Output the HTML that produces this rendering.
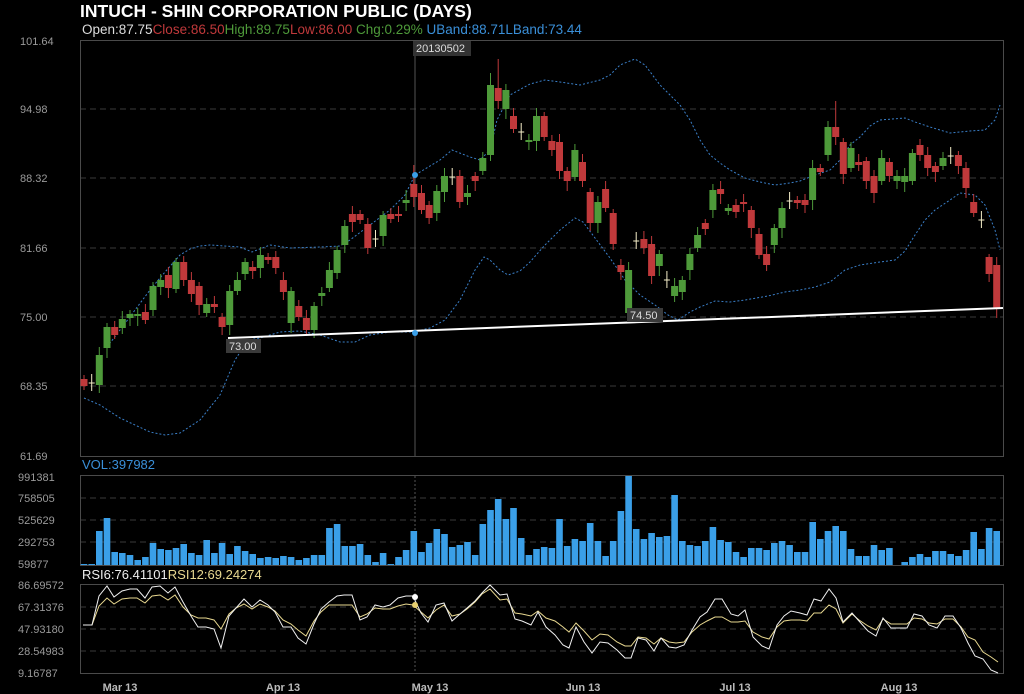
<!DOCTYPE html>
<html><head><meta charset="utf-8"><style>
html,body{margin:0;padding:0;background:#000;width:1024px;height:694px;overflow:hidden}
svg{display:block}
text{font-family:"Liberation Sans",sans-serif}
</style></head><body>
<svg id="s" width="1024" height="694" xmlns="http://www.w3.org/2000/svg">
<rect width="1024" height="694" fill="#000"/>
<text x="80" y="17" fill="#fff" font-size="17.5" font-weight="bold">INTUCH - SHIN CORPORATION PUBLIC (DAYS)</text>
<text x="82" y="34" font-size="13.5"><tspan fill="#ddd">Open:87.75</tspan><tspan fill="#c0393b">Close:86.50</tspan><tspan fill="#4e9a3a">High:89.75</tspan><tspan fill="#c0393b">Low:86.00</tspan><tspan fill="#4e9a3a"> Chg:0.29%</tspan><tspan fill="#3a8fd8">   UBand:88.71</tspan><tspan fill="#3a8fd8">LBand:73.44</tspan></text>
<g id="g"></g>
</svg>
<script>
var g=document.getElementById('g'),h='';
function L(x1,y1,x2,y2,c,w,d){h+='<line x1="'+x1+'" y1="'+y1+'" x2="'+x2+'" y2="'+y2+'" stroke="'+c+'" stroke-width="'+(w||1)+'"'+(d?' stroke-dasharray="'+d+'"':'')+'/>';}
function T(x,y,t,c,s,a,b){h+='<text x="'+x+'" y="'+y+'" fill="'+c+'" font-size="'+s+'"'+(a?' text-anchor="'+a+'"':'')+(b?' font-weight="bold"':'')+'>'+t+'</text>';}
var pl=[[41,'101.64'],[109,'94.98'],[178,'88.32'],[248,'81.66'],[317,'75.00'],[386,'68.35'],[456,'61.69']];
pl.forEach(function(p,i){if(i>0&&i<6)L(80,p[0],1003,p[0],'#3a3a3a',1,'6,4');T(20,p[0]+4,p[1],'#9a9a9a',11);});
var vl=[[477,'991381'],[498,'758505'],[520,'525629'],[542,'292753'],[564,'59877']];
vl.forEach(function(p,i){if(i>0&&i<4)L(80,p[0],1003,p[0],'#3a3a3a',1,'6,4');T(18,p[0]+4,p[1],'#9a9a9a',11);});
var rl=[[585,'86.69572'],[607,'67.31376'],[629,'47.93180'],[651,'28.54983'],[673,'9.16787']];
rl.forEach(function(p,i){if(i>0&&i<4)L(80,p[0],1003,p[0],'#3a3a3a',1,'6,4');T(18,p[0]+4,p[1],'#9a9a9a',11);});
h+='<rect x="80.5" y="40.5" width="923" height="416" fill="none" stroke="#4a4a4a"/>';
h+='<rect x="80.5" y="475.5" width="923" height="90" fill="none" stroke="#4a4a4a"/>';
h+='<rect x="80.5" y="584.5" width="923" height="89" fill="none" stroke="#4a4a4a"/>';
T(82,469,'VOL:397982','#3a8fd8',13);
h+='<text x="82" y="579" font-size="13"><tspan fill="#eee">RSI6:76.41101</tspan><tspan fill="#e8d890">RSI12:69.24274</tspan></text>';
[['Mar 13',120],['Apr 13',283],['May 13',430],['Jun 13',583],['Jul 13',735],['Aug 13',899]].forEach(function(a){T(a[1],691,a[0],'#bbb',11,'middle',1);});
L(415,41,415,456,'#555');L(415,476,415,565,'#555',1,'2,2');L(415,585,415,673,'#555',1,'2,2');
function P(pts,c,w,d){h+='<polyline fill="none" stroke="'+c+'" stroke-width="'+(w||1)+'"'+(d?' stroke-dasharray="'+d+'"':'')+' points="'+pts+'"/>';}
var up='107,347 120,330 135,310 150,290 165,272 180,255 190,249 200,246 210,245 240,247 252,252 270,245 290,248 320,247 340,246 350,240 370,225 390,210 405,195 415,175 440,160 452,150 470,157 480,160 490,150 497,120 510,95 530,84 545,80 560,82 580,85 600,80 610,75 620,65 635,59 645,65 660,85 680,105 690,120 700,140 710,155 720,163 730,170 745,178 760,182 775,185 790,183 800,181 815,175 830,170 840,160 850,145 860,137 870,126 880,120 905,118 915,122 930,127 950,133 970,131 985,130 995,120 1000,105';
var lo='84,398 100,405 120,418 150,432 165,435 180,433 200,420 220,395 235,360 248,340 260,338 280,332 300,331 320,335 340,342 355,342 370,335 390,332 413,332 430,328 445,320 460,300 475,270 484,257 490,260 500,270 508,275 520,271 530,262 545,245 560,230 575,218 583,222 595,238 610,258 625,280 640,295 655,305 668,315 678,320 690,312 700,307 715,301 730,302 745,300 768,296 785,292 800,290 815,287 830,282 845,270 860,265 880,262 895,260 905,251 915,235 925,220 935,210 950,200 960,193 975,195 985,205 995,230 1000,250';
P(up,'#3a7fc8',1,'2,2');P(lo,'#3a7fc8',1,'2,2');
var C=[['r',379,386],['c',383,383],['g',355,385],['g',327,348],['r',327,335],['g',319,328],['g',314,318],['g',314,316],['r',312,320],['g',286,310],['g',280,287],['r',275,288],['g',262,289],['r',262,280],['r',280,294],['r',286,305],['g',304,313],['r',304,307],['r',317,327],['g',291,325],['g',280,291],['g',262,274],['r',267,271],['g',255,268],['r',257,260],['r',257,268],['r',280,292],['g',291,323],['r',306,317],['r',318,330],['g',306,330],['g',293,296],['g',270,288],['g',250,273],['g',226,245],['r',214,222],['r',214,220],['r',224,248],['c',239,239],['g',215,236],['r',214,219],['r',214,216],['g',200,203],['r',184,197],['r',193,210],['r',205,218],['g',191,213],['g',176,192],['c',177,177],['r',176,202],['g',193,197],['r',176,181],['g',158,171],['g',85,155],['r',88,101],['g',90,109],['r',116,129],['c',132,132],['g',140,142],['g',116,141],['r',116,137],['r',141,150],['r',142,171],['r',171,181],['g',150,177],['r',162,181],['r',192,223],['g',202,223],['r',189,208],['r',213,244],['r',265,272],['g',270,313],['c',241,241],['r',239,248],['r',244,276],['g',254,266],['c',280,280],['g',286,296],['g',280,292],['g',254,270],['g',235,248],['r',223,229],['g',190,210],['r',189,194],['g',208,211],['r',205,212],['r',202,204],['r',210,228],['r',234,255],['r',254,265],['g',228,245],['g',208,228],['c',201,201],['r',200,203],['r',200,205],['g',168,200],['r',168,172],['g',127,155],['r',127,137],['r',142,174],['g',148,168],['r',162,165],['r',161,181],['r',176,193],['g',158,181],['r',162,176],['g',176,181],['g',176,182],['g',153,181],['r',145,155],['r',155,168],['r',166,172],['g',158,166],['c',156,156],['r',155,166],['r',168,188],['r',202,213],['c',220,220],['r',257,274],['r',265,308]];
var hi={53:73,54:59,97:127,98:101,89:280,73:231,71:313,118:254,42:190,43:165,74:262};
C.forEach(function(c,i){var x=84+i*7.67,col=c[0]=='r'?'#c0393b':c[0]=='g'?'#4e9a3a':'#f5eec8';
 var top=hi[i]&&hi[i]<c[1]?hi[i]:c[1]-4-(i%3)*2, bot=c[2]+4+(i%4)*2;
 if(c[0]=='c'){top=c[1]-9;bot=c[1]+8;}
 L(x.toFixed(1),top,x.toFixed(1),bot,col,1);
 if(c[0]=='c')L((x-3).toFixed(1),c[1],(x+3).toFixed(1),c[1],col,1);
 else h+='<rect x="'+(x-3.5).toFixed(1)+'" y="'+c[1]+'" width="7" height="'+Math.max(2,c[2]-c[1])+'" fill="'+col+'"/>';});
L(228,338,1003,308,'#fff',2);
h+='<rect x="226" y="339" width="35" height="14" fill="#3a3a3a"/>';T(229,350,'73.00','#ddd',11);
h+='<rect x="627" y="308" width="36" height="14" fill="#3a3a3a"/>';T(630,319,'74.50','#ddd',11);
h+='<rect x="413" y="41" width="58" height="15" fill="#333"/>';T(416,52,'20130502','#ddd',11);
h+='<circle cx="415" cy="175" r="3" fill="#3a9fe8"/><circle cx="415" cy="333" r="3" fill="#3a9fe8"/>';
var V=[564,564,531,518,552,553,555,560,557,543,549,550,548,544,553,555,540,553,543,554,546,551,554,558,557,558,556,557,560,558,555,555,528,524,546,546,544,555,562,553,564,557,550,531,552,543,529,534,547,545,542,555,524,510,499,519,508,538,555,549,547,548,519,546,539,541,523,541,556,541,511,476,529,539,533,537,536,495,541,545,546,541,527,540,542,552,557,548,548,550,543,541,545,552,552,522,539,531,526,531,549,556,556,545,550,548,565,562,557,554,557,551,551,554,556,550,532,549,528,531];
V.forEach(function(v,i){var x=84+i*7.67;if(v<565)h+='<rect x="'+(x-3.3).toFixed(1)+'" y="'+v+'" width="6.6" height="'+(565-v)+'" fill="#3a9fe8"/>';});
var rw='83,625 92,625 99,596 107,586 114,597 122,591 130,589 137,589 145,598 152,587 160,586 168,593 175,587 183,602 191,616 198,627 206,627 214,629 221,648 229,616 236,608 244,599 252,607 260,600 268,605 275,612 283,627 291,627 298,638 306,644 314,624 321,609 329,602 337,596 344,595 352,595 360,620 367,617 375,605 383,607 390,605 398,598 406,596 413,596 421,613 428,622 436,605 444,603 452,621 460,614 467,608 475,601 482,593 490,585 500,595 507,594 515,619 522,621 531,625 538,612 546,627 555,635 563,645 569,648 576,627 584,642 592,653 600,642 608,643 617,650 625,658 631,658 638,638 646,640 654,651 661,638 669,647 676,648 684,645 692,630 700,617 707,612 715,599 722,599 731,614 738,616 745,610 753,637 762,646 769,649 777,625 784,616 791,611 800,613 807,615 814,599 821,601 829,589 836,598 843,622 852,613 859,621 868,631 876,636 883,618 891,628 899,628 907,628 914,614 922,616 929,625 937,628 945,616 953,616 961,628 968,643 975,656 983,659 991,670 998,673';
var ry='83,625 92,625 99,606 107,598 114,604 122,599 130,598 137,598 145,603 152,596 160,595 168,600 175,595 183,607 191,615 198,618 206,618 214,620 221,629 229,614 236,608 244,604 252,609 260,604 268,607 275,611 283,620 291,624 298,630 306,636 314,621 321,612 329,605 337,605 344,605 352,605 360,617 367,614 375,608 383,609 390,609 398,606 406,604 413,605 421,612 428,618 436,610 444,605 452,616 460,614 467,609 475,602 482,594 490,589 500,600 507,599 515,613 522,614 531,616 538,611 546,618 555,621 563,627 569,632 576,623 584,631 592,640 600,634 608,635 617,642 625,646 631,646 638,637 646,638 654,644 661,638 669,642 676,643 684,642 692,632 700,625 707,621 715,617 722,617 731,622 738,622 745,621 753,632 762,637 769,639 777,627 784,621 791,620 800,620 807,621 814,613 821,613 829,605 836,609 843,623 852,614 859,620 868,626 876,630 883,619 891,624 899,624 907,624 914,618 922,619 929,623 937,624 945,619 953,619 961,627 968,637 975,640 983,652 991,657 998,662';
P(ry,'#e8d890',1);P(rw,'#f0f0f0',1);
h+='<circle cx="415" cy="597" r="3" fill="#fff"/><circle cx="415" cy="605" r="3" fill="#e8d070"/>';
g.innerHTML=h;
</script>
</body></html>
